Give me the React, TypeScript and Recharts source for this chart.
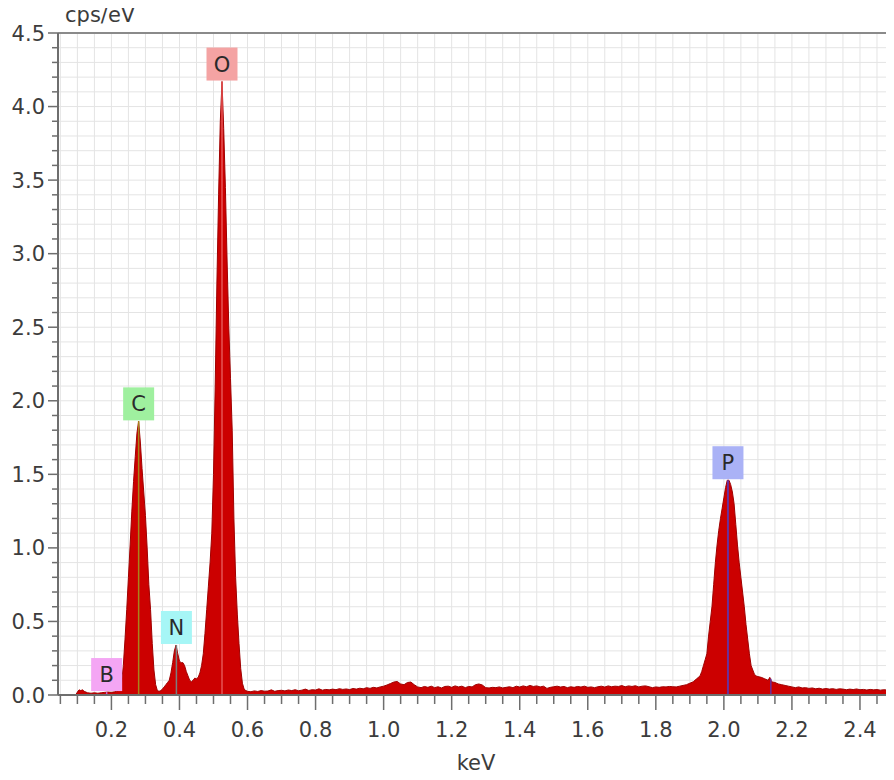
import {
  ComposedChart,
  Area,
  Scatter,
  XAxis,
  YAxis,
  CartesianGrid,
  ReferenceLine
} from "recharts"

// spectrum: [keV, cps/eV]
const lowEnergy: [number, number][] = [
  [0.095, 0], [0.1, 0.02], [0.105, 0.035], [0.11, 0.03], [0.115, 0.035], [0.12, 0.025],
  [0.125, 0.02], [0.13, 0.015], [0.14, 0.012], [0.15, 0.015], [0.16, 0.012], [0.17, 0.015],
  [0.18, 0.018], [0.19, 0.02], [0.2, 0.018], [0.21, 0.022], [0.215, 0.025], [0.22, 0.03],
  [0.225, 0.05], [0.23, 0.09], [0.235, 0.2], [0.24, 0.38], [0.245, 0.58], [0.25, 0.8],
  [0.255, 1.02], [0.26, 1.25], [0.265, 1.45], [0.27, 1.62], [0.275, 1.78], [0.28, 1.86],
  [0.285, 1.72], [0.29, 1.54], [0.295, 1.38], [0.3, 1.22], [0.305, 1.0], [0.31, 0.75],
  [0.315, 0.58], [0.32, 0.35], [0.325, 0.17], [0.33, 0.07], [0.335, 0.03], [0.34, 0.025],
  [0.345, 0.03], [0.35, 0.04], [0.355, 0.055], [0.36, 0.07], [0.365, 0.085], [0.37, 0.1],
  [0.375, 0.15], [0.38, 0.22], [0.385, 0.3], [0.39, 0.34], [0.395, 0.28], [0.4, 0.23],
  [0.405, 0.22], [0.41, 0.22], [0.415, 0.2], [0.42, 0.16], [0.425, 0.13], [0.43, 0.1],
  [0.435, 0.09], [0.44, 0.1], [0.445, 0.115], [0.45, 0.11], [0.455, 0.12], [0.46, 0.15]
]

const oxygenRegion: [number, number][] = [
  [0.465, 0.2], [0.47, 0.28], [0.475, 0.42], [0.48, 0.58], [0.485, 0.74], [0.49, 0.9],
  [0.495, 1.1], [0.5, 1.5], [0.505, 2.1], [0.51, 2.8], [0.515, 3.4], [0.52, 3.9],
  [0.525, 4.17], [0.53, 3.85], [0.535, 3.45], [0.54, 2.95], [0.545, 2.5], [0.55, 2.15],
  [0.555, 1.8], [0.56, 1.2], [0.565, 0.8], [0.57, 0.55], [0.575, 0.35], [0.58, 0.18],
  [0.585, 0.08], [0.59, 0.04], [0.595, 0.03], [0.6, 0.025]
]

const background: [number, number][] = [
  [0.61, 0.022], [0.62, 0.028], [0.63, 0.024], [0.64, 0.03], [0.65, 0.026], [0.66, 0.027],
  [0.67, 0.035], [0.68, 0.025], [0.69, 0.03], [0.7, 0.032], [0.71, 0.028], [0.72, 0.034],
  [0.73, 0.03], [0.74, 0.036], [0.75, 0.029], [0.76, 0.033], [0.77, 0.04], [0.78, 0.031],
  [0.79, 0.036], [0.8, 0.034], [0.81, 0.042], [0.82, 0.033], [0.83, 0.038], [0.84, 0.035],
  [0.85, 0.04], [0.86, 0.036], [0.87, 0.043], [0.88, 0.038], [0.89, 0.041], [0.9, 0.037],
  [0.91, 0.044], [0.92, 0.04], [0.93, 0.046], [0.94, 0.042], [0.95, 0.05], [0.96, 0.045],
  [0.97, 0.052], [0.98, 0.048], [0.99, 0.055], [1.0, 0.06], [1.01, 0.068], [1.02, 0.078],
  [1.03, 0.088], [1.04, 0.092], [1.05, 0.075], [1.06, 0.07], [1.07, 0.085], [1.08, 0.088],
  [1.09, 0.07], [1.1, 0.055], [1.11, 0.05], [1.12, 0.058], [1.13, 0.052], [1.14, 0.06],
  [1.15, 0.05], [1.16, 0.056], [1.17, 0.048], [1.18, 0.058], [1.19, 0.06], [1.2, 0.052],
  [1.21, 0.062], [1.22, 0.055], [1.23, 0.06], [1.24, 0.05], [1.25, 0.058], [1.26, 0.055],
  [1.27, 0.07], [1.28, 0.075], [1.29, 0.068], [1.3, 0.05], [1.31, 0.048], [1.32, 0.052],
  [1.33, 0.05], [1.34, 0.055], [1.35, 0.048], [1.36, 0.052], [1.37, 0.056], [1.38, 0.05],
  [1.39, 0.06], [1.4, 0.054], [1.41, 0.062], [1.42, 0.056], [1.43, 0.065], [1.44, 0.058],
  [1.45, 0.062], [1.46, 0.055], [1.47, 0.06], [1.48, 0.045], [1.49, 0.052], [1.5, 0.056],
  [1.51, 0.06], [1.52, 0.054], [1.53, 0.058], [1.54, 0.05], [1.55, 0.056], [1.56, 0.052],
  [1.57, 0.058], [1.58, 0.054], [1.59, 0.06], [1.6, 0.052], [1.61, 0.055], [1.62, 0.05],
  [1.63, 0.056], [1.64, 0.06], [1.65, 0.054], [1.66, 0.062], [1.67, 0.056], [1.68, 0.06],
  [1.69, 0.058], [1.7, 0.064], [1.71, 0.056], [1.72, 0.062], [1.73, 0.058], [1.74, 0.063],
  [1.75, 0.055], [1.76, 0.06], [1.77, 0.062], [1.78, 0.056], [1.79, 0.05], [1.8, 0.055],
  [1.81, 0.052], [1.82, 0.056], [1.83, 0.055], [1.84, 0.058], [1.85, 0.056]
]

const phosphorusRegion: [number, number][] = [
  [1.86, 0.055], [1.87, 0.06], [1.88, 0.065], [1.89, 0.07], [1.9, 0.08], [1.91, 0.09],
  [1.92, 0.11], [1.93, 0.13], [1.935, 0.16], [1.94, 0.2], [1.945, 0.24], [1.95, 0.28],
  [1.955, 0.4], [1.96, 0.5], [1.965, 0.6], [1.97, 0.75], [1.975, 0.9], [1.98, 1.02],
  [1.985, 1.12], [1.99, 1.2], [1.995, 1.27], [2.0, 1.34], [2.005, 1.41], [2.01, 1.46],
  [2.015, 1.46], [2.02, 1.43], [2.025, 1.38], [2.03, 1.3], [2.035, 1.16], [2.04, 1.02],
  [2.045, 0.9], [2.05, 0.8], [2.055, 0.7], [2.06, 0.6], [2.065, 0.48], [2.07, 0.38],
  [2.075, 0.28], [2.08, 0.2], [2.085, 0.17], [2.09, 0.14], [2.095, 0.13], [2.1, 0.125],
  [2.11, 0.12], [2.12, 0.11], [2.13, 0.1], [2.135, 0.12], [2.14, 0.09], [2.15, 0.085],
  [2.16, 0.075], [2.17, 0.07], [2.18, 0.065], [2.19, 0.06], [2.2, 0.055]
]

const tail: [number, number][] = [
  [2.21, 0.05], [2.22, 0.055], [2.23, 0.048], [2.24, 0.05], [2.25, 0.045], [2.26, 0.048],
  [2.27, 0.042], [2.28, 0.046], [2.29, 0.04], [2.3, 0.044], [2.31, 0.04], [2.32, 0.043],
  [2.33, 0.038], [2.34, 0.042], [2.35, 0.04], [2.36, 0.036], [2.37, 0.04], [2.38, 0.037],
  [2.39, 0.041], [2.4, 0.036], [2.41, 0.038], [2.42, 0.034], [2.43, 0.038], [2.44, 0.035],
  [2.45, 0.037], [2.46, 0.033], [2.47, 0.036], [2.48, 0.034], [2.49, 0.037], [2.5, 0.035]
]

// element markers
const elements = ["B", "C", "N", "O", "P"]
const lineEnergies = [0.186, 0.28, 0.391, 0.525, 2.012]
const lineHeights = [0.02, 1.86, 0.34, 4.17, 1.46]
const boxColors = ["#f4a6f4", "#9ff09f", "#a6f6f6", "#f4a3a3", "#aab2f6"]
const lineColors = ["#d060d0", "#a8841a", "#7d7d7d", "#e65454", "#6b2f9a"]

const pKbEnergy = 2.138
const pKbHeight = 0.11

const spectrum = [...lowEnergy, ...oxygenRegion, ...background, ...phosphorusRegion, ...tail]
  .map(([e, c]) => ({ e, c }))

const markers = elements.map((name, i) => ({
  e: lineEnergies[i],
  v: lineHeights[i],
  name,
  fill: boxColors[i]
}))

const xTicks = Array.from({ length: 50 }, (_, i) => Math.round((0.05 + i * 0.05) * 100) / 100)
const yTicks = Array.from({ length: 46 }, (_, i) => Math.round(i * 10) / 100)

const FONT = "'DejaVu Sans', Verdana, sans-serif"
const TEXT = "#3c3c3c"
const AXIS = "#6e6e6e"
const PLOT_LEFT = 50
const PLOT_BOTTOM = 695

function XTick(props: any) {
  const { x, payload } = props
  const v = payload.value
  const major = Math.abs(v * 5 - Math.round(v * 5)) < 1e-6 && v < 2.45
  return (
    <g>
      <line x1={x} y1={PLOT_BOTTOM} x2={x} y2={PLOT_BOTTOM + (major ? 15 : 9)} stroke={AXIS} strokeWidth={1.5} />
      {major && (
        <text x={x} y={PLOT_BOTTOM + 42} textAnchor="middle" fontSize={21} fontFamily={FONT} fill={TEXT}>
          {v.toFixed(1)}
        </text>
      )}
    </g>
  )
}

function YTick(props: any) {
  const { y, payload } = props
  const v = payload.value
  const major = Math.abs(v * 2 - Math.round(v * 2)) < 1e-6
  return (
    <g>
      <line x1={PLOT_LEFT - (major ? 10 : 6)} y1={y} x2={PLOT_LEFT} y2={y} stroke={AXIS} strokeWidth={1.5} />
      {major && (
        <text x={PLOT_LEFT - 13} y={y} dy="0.36em" textAnchor="end" fontSize={21} fontFamily={FONT} fill={TEXT}>
          {v.toFixed(1)}
        </text>
      )}
    </g>
  )
}

function ElementBox(props: any) {
  const { cx, cy, payload } = props
  return (
    <g>
      <rect x={cx - 15.5} y={cy - 34} width={31} height={33} fill={payload.fill} />
      <text x={cx} y={cy - 10} textAnchor="middle" fontSize={21} fontFamily={FONT} fill="#2a2a2a">
        {payload.name}
      </text>
    </g>
  )
}

export default function App() {
  return (
    <div style={{ width: 886, height: 780, marginTop: -8 }}>
      <ComposedChart
        width={886}
        height={780}
        data={spectrum}
        margin={{ top: 33, right: 0, bottom: 0, left: 0 }}
      >
        <CartesianGrid stroke="#e4e4e4" strokeWidth={1} />

        <XAxis
          type="number"
          dataKey="e"
          domain={[0.043, 2.5]}
          allowDataOverflow
          ticks={xTicks}
          interval={0}
          height={85}
          stroke={AXIS}
          strokeWidth={2}
          tickLine={false}
          tick={<XTick />}
          label={{
            content: (p: any) => (
              <text
                x={p.viewBox.x + p.viewBox.width / 2}
                y={p.viewBox.y + 75}
                textAnchor="middle"
                fontSize={21}
                fontFamily={FONT}
                fill={TEXT}
              >
                keV
              </text>
            )
          }}
        />

        <YAxis
          type="number"
          domain={[0, 4.5]}
          allowDataOverflow
          ticks={yTicks}
          interval={0}
          width={50}
          stroke={AXIS}
          strokeWidth={2}
          tickLine={false}
          tick={<YTick />}
          label={{
            content: (p: any) => (
              <text
                x={p.viewBox.x + p.viewBox.width + 7}
                y={p.viewBox.y - 11}
                textAnchor="start"
                fontSize={21}
                fontFamily={FONT}
                fill={TEXT}
              >
                cps/eV
              </text>
            )
          }}
        />

        <ReferenceLine y={4.5} stroke="#8a8a8a" strokeWidth={2} />

        <Area
          type="linear"
          dataKey="c"
          stroke="#a00000"
          strokeWidth={1}
          fill="#cc0000"
          fillOpacity={1}
          baseValue={0}
          dot={false}
          activeDot={false}
          isAnimationActive={false}
        />

        {elements.map((name, i) => (
          <ReferenceLine
            key={name}
            segment={[
              { x: lineEnergies[i], y: 0 },
              { x: lineEnergies[i], y: lineHeights[i] }
            ]}
            stroke={lineColors[i]}
            strokeWidth={name === "P" ? 2 : 1.5}
          />
        ))}
        <ReferenceLine
          segment={[
            { x: pKbEnergy, y: 0 },
            { x: pKbEnergy, y: pKbHeight }
          ]}
          stroke="#6b2f9a"
          strokeWidth={1.5}
        />

        <Scatter data={markers} dataKey="v" shape={<ElementBox />} isAnimationActive={false} />
      </ComposedChart>
    </div>
  )
}
